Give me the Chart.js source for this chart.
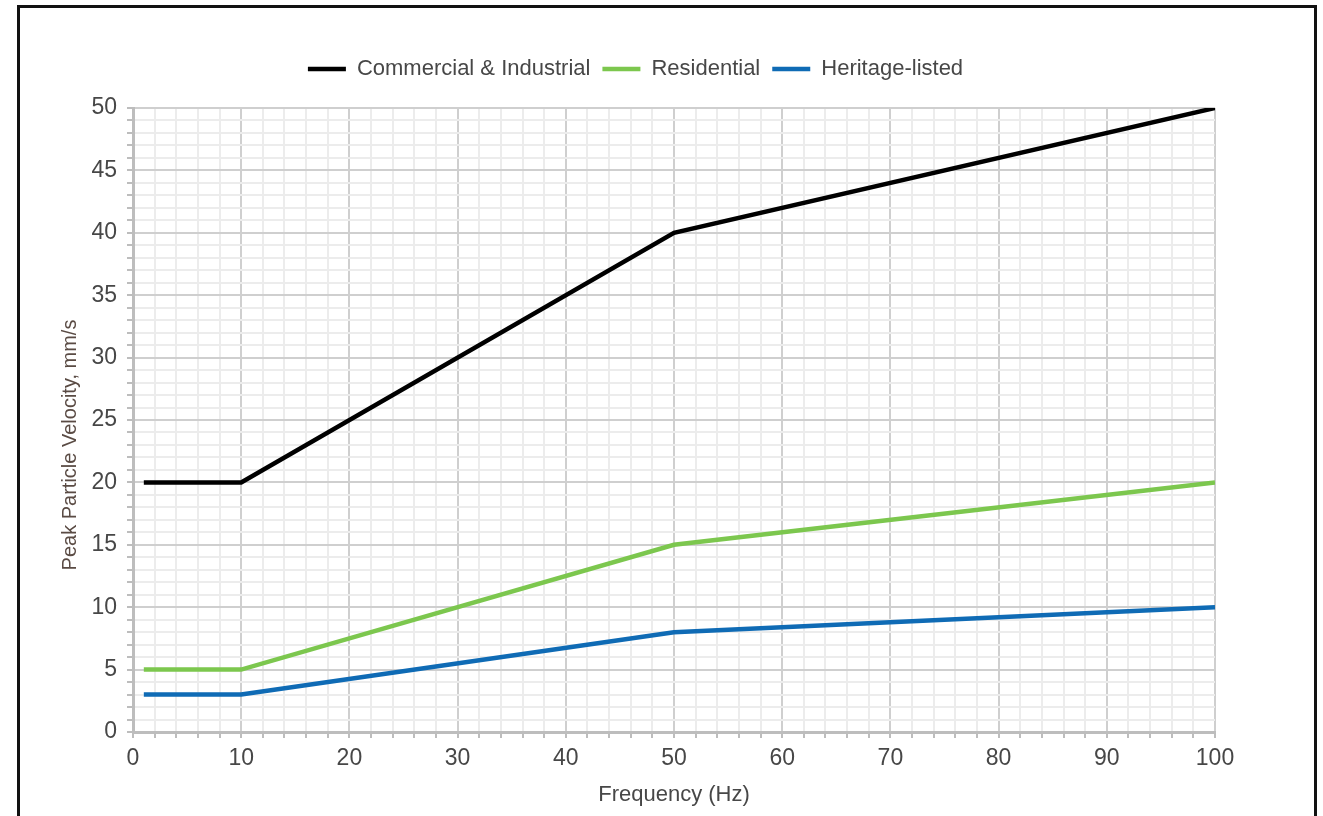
<!DOCTYPE html>
<html>
<head>
<meta charset="utf-8">
<script src="https://cdn.jsdelivr.net/npm/chart.js@4"></script>
<style>
  html, body { margin: 0; padding: 0; background: #fff; overflow: hidden; }
  .frame { position: absolute; left: 17px; top: 5px; width: 1294px; height: 840px; border: 3px solid #111; pointer-events: none; }
  .wrap { position: absolute; left: 0; top: 0; width: 1323px; height: 816px; }
</style>
</head>
<body>
<div class="wrap"><canvas id="ppv" width="1323" height="816"></canvas></div>
<div class="frame"></div>
<script>
// Frequency break points (Hz) and peak particle velocity (mm/s)
const freq = [1, 10, 50, 100];
const commercial = [20, 20, 40, 50];
const residential = [5, 5, 15, 20];
const heritage = [3, 3, 8, 10];

const seriesNames = ['Commercial & Industrial', 'Residential', 'Heritage-listed'];
const colours = ['#000000', '#7cc74e', '#0f6bb5'];

const toPoints = (vals) => freq.map((f, i) => ({ x: f, y: vals[i] }));

const textColour = '#474747';

// push the plot down below the legend
const legendGap = {
  id: 'legendGap',
  beforeInit(chart) {
    const fit = chart.legend.fit;
    chart.legend.fit = function () {
      fit.call(this);
      this.height = 62;
    };
  }
};

const ctx = document.getElementById('ppv').getContext('2d');

new Chart(ctx, {
  type: 'line',
  data: {
    datasets: [commercial, residential, heritage].map((vals, i) => ({
      label: seriesNames[i],
      data: toPoints(vals),
      borderColor: colours[i],
      backgroundColor: colours[i],
      borderWidth: 4.5,
      pointRadius: 0,
      tension: 0,
      fill: false
    }))
  },
  options: {
    responsive: false,
    animation: false,
    devicePixelRatio: 1,
    layout: { padding: { left: 56, right: 108, top: 46, bottom: 6 } },
    plugins: {
      legend: {
        position: 'top',
        labels: {
          usePointStyle: true,
          pointStyle: 'line',
          pointStyleWidth: 38,
          boxHeight: 4,
          color: textColour,
          font: { family: 'Liberation Sans', size: 22 },
          padding: 12
        }
      },
      tooltip: { enabled: false }
    },
    scales: {
      x: {
        type: 'linear',
        min: 0,
        max: 100,
        afterBuildTicks: (scale) => {
          const t = [];
          for (let v = 0; v <= 100; v += 2) t.push({ value: v });
          scale.ticks = t;
        },
        afterFit: (scale) => { scale.height = 78; },
        ticks: {
          autoSkip: false,
          maxRotation: 0,
          color: textColour,
          font: { family: 'Liberation Sans', size: 23 },
          padding: 7,
          callback: (v) => (v % 10 === 0 ? v : '')
        },
        grid: {
          color: (c) => (c.tick && c.tick.value % 10 === 0 ? '#cfcfcf' : '#ececec'),
          lineWidth: 2,
          tickLength: 6,
          tickColor: '#bdbdbd'
        },
        border: { color: '#bdbdbd', width: 3 },
        title: {
          display: true,
          text: 'Frequency (Hz)',
          color: textColour,
          font: { family: 'Liberation Sans', size: 22 },
          padding: { top: 0, bottom: 2 }
        }
      },
      y: {
        type: 'linear',
        min: 0,
        max: 50,
        afterFit: (scale) => { scale.width = 133 - 56; },
        ticks: {
          stepSize: 1,
          autoSkip: false,
          color: textColour,
          font: { family: 'Liberation Sans', size: 23 },
          padding: 10,
          callback: (v) => (v % 5 === 0 ? v : '')
        },
        grid: {
          color: (c) => (c.tick && c.tick.value % 5 === 0 ? '#cfcfcf' : '#ececec'),
          lineWidth: 2,
          tickLength: 6,
          tickColor: '#bdbdbd'
        },
        border: { color: '#bdbdbd', width: 3 },
        title: {
          display: true,
          text: 'Peak Particle Velocity, mm/s         ',
          color: '#5a4b44',
          font: { family: 'Liberation Sans', size: 20 },
          padding: { top: 2, bottom: 4 }
        }
      }
    }
  },
  plugins: [legendGap]
});
</script>
</body>
</html>
